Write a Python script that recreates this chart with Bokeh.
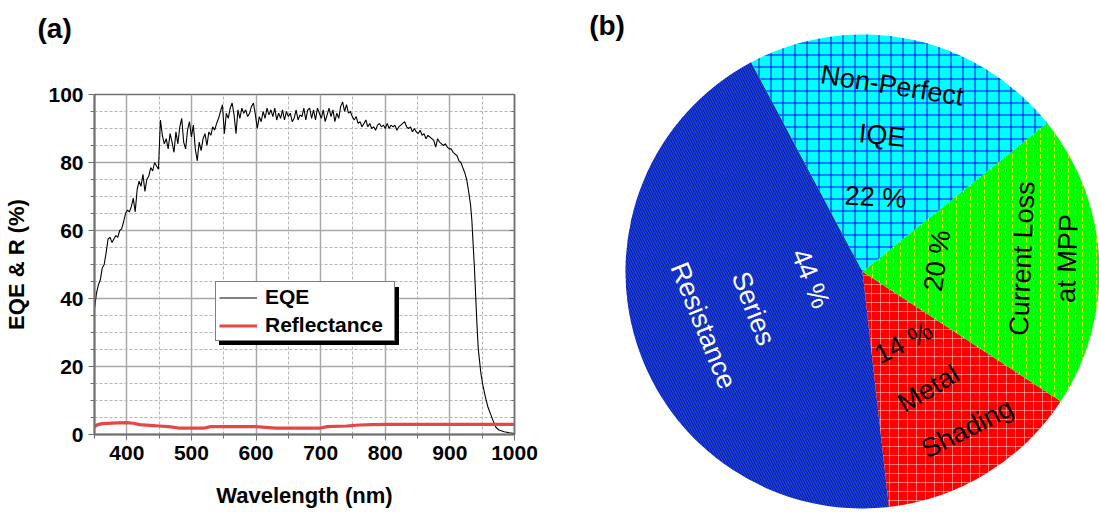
import math
from bokeh.plotting import figure
from bokeh.models import (Range1d, LinearAxis, SingleIntervalTicker, Legend,
                          LegendItem, Label, Title, CustomJSTickFormatter)
from bokeh.layouts import row
from bokeh.embed import file_html
from bokeh.resources import INLINE
from bokeh.core.properties import value

# ---------------- data: panel (a) ----------------
eqe_wl = [
    350, 353, 356, 359, 362, 365, 368, 371, 374, 377,
    380, 383, 386, 389, 392, 395, 398, 401, 404, 407,
    410, 413, 416, 419, 422, 425, 428, 431, 434, 437,
    440, 443, 446, 449, 452, 455, 458, 461, 464, 467,
    470, 473, 476, 479, 482, 485, 488, 491, 494, 497,
    500, 503, 506, 509, 512, 515, 518, 521, 524, 527,
    530, 533, 536, 539, 542, 545, 548, 551, 554, 557,
    560, 563, 566, 569, 572, 575, 578, 581, 584, 587,
    590, 593, 596, 599, 602, 605, 608, 611, 614, 617,
    620, 623, 626, 629, 632, 635, 638, 641, 644, 647,
    650, 653, 656, 659, 662, 665, 668, 671, 674, 677,
    680, 683, 686, 689, 692, 695, 698, 701, 704, 707,
    710, 713, 716, 719, 722, 725, 728, 731, 734, 737,
    740, 743, 746, 749, 752, 755, 758, 761, 764, 767,
    770, 773, 776, 779, 782, 785, 788, 791, 794, 797,
    800, 803, 806, 809, 812, 815, 818, 821, 824, 827,
    830, 833, 836, 839, 842, 845, 848, 851, 854, 857,
    860, 863, 866, 869, 872, 875, 878, 881, 884, 887,
    890, 893, 896, 899, 902, 905, 908, 911, 914, 917,
    920, 923, 926, 929, 932, 934, 936, 938, 940, 942,
    944, 946, 948, 951, 955, 959, 963, 967, 971, 976,
    984, 992, 1000,
]
eqe = [
    37.0, 41.5, 44.0, 45.5, 49.0, 50.0, 53.5, 57.5, 58.0, 56.5,
    57.5, 58.5, 58.0, 60.0, 60.5, 62.5, 65.0, 66.0, 65.5, 67.0,
    69.5, 65.5, 72.0, 74.5, 73.0, 76.5, 71.5, 75.0, 76.0, 78.5,
    77.5, 80.0, 79.0, 78.0, 92.5, 88.0, 85.5, 87.0, 84.0, 88.5,
    86.0, 83.0, 89.0, 85.5, 90.5, 93.0, 86.0, 84.0, 89.5, 92.0,
    87.5, 91.0, 84.0, 80.5, 86.0, 83.5, 87.0, 88.5, 85.0, 89.0,
    88.0, 90.5, 89.5, 91.5, 93.0, 95.0, 97.0, 88.5, 94.5, 93.0,
    96.0, 97.5, 94.0, 88.5, 95.5, 93.0, 96.0, 94.5, 95.5, 93.5,
    94.5, 96.5, 97.5, 94.0, 90.0, 93.5, 92.0, 95.0, 93.0, 96.0,
    94.0, 95.5, 93.5, 96.0, 92.5, 94.5, 93.0, 95.5, 92.5, 95.0,
    93.5, 94.5, 92.0, 93.0, 95.5, 92.5, 94.0, 93.5, 96.0, 92.5,
    95.5, 96.0, 93.0, 95.5, 92.5, 96.0, 94.5, 93.0, 95.5, 92.0,
    94.0, 96.0, 93.5, 95.5, 92.0, 94.5, 93.0, 96.5, 97.8, 95.0,
    97.0, 94.5, 95.0, 93.5, 92.5, 93.5, 91.5, 92.0, 90.5, 91.5,
    92.5, 90.5, 91.5, 90.0, 90.5, 89.5, 91.0, 91.5, 90.5, 91.0,
    90.0, 91.5, 90.0, 91.0, 90.5, 91.0, 89.5, 90.5, 91.0, 91.5,
    92.0, 90.5, 90.0, 90.5, 89.0, 90.0, 89.0, 88.5, 89.5, 88.0,
    88.5, 87.0, 88.0, 87.5, 87.0, 86.5, 84.5, 87.0, 86.0, 85.5,
    85.0, 85.5, 84.5, 84.0, 84.0, 83.0, 82.5, 82.0, 80.5, 80.0,
    78.5, 77.0, 75.0, 71.5, 67.5, 63.0, 56.0, 49.0, 40.5, 32.0,
    25.0, 21.5, 18.0, 14.5, 11.0, 8.0, 6.0, 4.0, 2.2, 1.3,
    0.8, 0.5, 0.3,
]
refl_wl = [350, 355, 362, 370, 385, 400, 410, 420, 435, 450, 465, 480, 500,
           520, 530, 560, 600, 630, 660, 700, 710, 740, 760, 780, 800, 850,
           900, 950, 1000]
refl = [2.3, 2.9, 3.2, 3.3, 3.4, 3.5, 3.3, 2.9, 2.7, 2.5, 2.3, 1.9, 1.9,
        1.9, 2.3, 2.3, 2.3, 1.9, 1.9, 1.9, 2.3, 2.5, 2.8, 2.9, 3.0, 3.0,
        3.0, 3.0, 3.0]
series_names = ["EQE", "Reflectance"]
x_title = "Wavelength (nm)"
y_title = "EQE & R (%)"

# ---------------- data: panel (b) ----------------
loss_names = ["Series Resistance", "Metal Shading", "Current Loss at MPP", "Non-Perfect IQE"]
loss_lines = [["Series", "Resistance"], ["Metal", "Shading"],
              ["Current Loss", "at MPP"], ["Non-Perfect", "IQE"]]
loss_pct = [44, 14, 20, 22]

FONT = "Liberation Sans"
AX = "#707070"

# ================= panel (a) =================
p = figure(width=560, height=512, x_range=Range1d(350, 1000), y_range=Range1d(0, 100),
           output_backend="svg", toolbar_location=None,
           min_border_left=94, min_border_right=46, min_border_top=94, min_border_bottom=78,
           x_axis_label=x_title, y_axis_label=y_title)
p.frame_align = False
p.outline_line_color = AX
p.outline_line_width = 1.5

p.title.text = "(a)"
p.title.text_font = FONT
p.title.text_font_size = "28px"
p.title.text_font_style = "bold"
p.title.text_color = "black"
p.title.align = "left"
p.title.vertical_align = "top"
p.title.offset = -57
p.title.standoff = 20
# empty spacer between the panel title and the frame
p.add_layout(Title(text=" ", text_font_size="2px", standoff=35), "above")

xt = SingleIntervalTicker(interval=100, num_minor_ticks=2)
yt = SingleIntervalTicker(interval=20, num_minor_ticks=4)
p.xaxis.ticker = xt
p.yaxis.ticker = yt
p.xgrid.ticker = xt
p.ygrid.ticker = yt

p.grid.grid_line_color = "#a8a8a8"
p.grid.grid_line_width = 1.5
p.grid.minor_grid_line_color = "#b4b4b4"
p.grid.minor_grid_line_dash = "3 2"
p.grid.minor_grid_line_width = 1

for ax in (p.xaxis[0], p.yaxis[0]):
    ax.axis_line_color = AX
    ax.axis_line_width = 2
    ax.major_tick_line_color = AX
    ax.minor_tick_line_color = AX
    ax.major_tick_out = 6
    ax.major_tick_in = 0
    ax.minor_tick_out = 4
    ax.minor_tick_in = 0
    ax.major_label_text_font = FONT
    ax.major_label_text_font_size = "21px"
    ax.major_label_text_font_style = "bold"
    ax.major_label_text_color = "black"
    ax.axis_label_text_font = FONT
    ax.axis_label_text_font_size = "22px"
    ax.axis_label_text_font_style = "bold"
    ax.axis_label_text_color = "black"
    ax.major_label_standoff = 5
p.xaxis.axis_label_standoff = 20
p.yaxis.axis_label_standoff = 16

right_ax = LinearAxis(ticker=yt, formatter=CustomJSTickFormatter(code="return ''"),
                      major_tick_in=5, major_tick_out=0, minor_tick_in=3, minor_tick_out=0,
                      axis_line_color=AX, axis_line_width=1.5,
                      major_tick_line_color=AX, minor_tick_line_color=AX)
p.add_layout(right_ax, "right")

r_eqe = p.line(eqe_wl, eqe, line_color="black", line_width=1.1)
r_ref = p.line(refl_wl, refl, line_color="#e64646", line_width=3.2)

leg_kw = dict(label_text_font=FONT, label_text_font_size="21px", label_text_font_style="bold",
              glyph_width=38, glyph_height=23, label_height=23, label_width=126,
              label_standoff=8, padding=3, spacing=4, margin=0, border_line_width=1.5)
shadow_items = [LegendItem(label=" ", renderers=[r_eqe]),
                LegendItem(label=" ", renderers=[r_ref])]
items = [LegendItem(label=series_names[0], renderers=[r_eqe]),
         LegendItem(label=series_names[1], renderers=[r_ref])]
shadow = Legend(items=shadow_items, location=(125, 89), background_fill_color="black",
                background_fill_alpha=1, border_line_color="black", **leg_kw)
legend = Legend(items=items, location=(121, 93), background_fill_color="white",
                background_fill_alpha=1, border_line_color="black",
                label_text_color="black", **leg_kw)
p.add_layout(shadow)
p.add_layout(legend)

# ================= panel (b) =================
R = 237.0
q = figure(width=539, height=512, x_range=Range1d(-302 / R, 237 / R),
           y_range=Range1d(-241 / R, 271 / R), x_axis_type=None, y_axis_type=None,
           output_backend="svg", toolbar_location=None, min_border=0,
           outline_line_color=None)
q.frame_align = False
q.grid.visible = False

fills = ["#0a10f2", "#ff0000", "#00ff00", "#00ffff"]
hatches = ["left_diagonal_line", "cross", "vertical_dash", "cross"]
hatch_colors = ["#2ea02e", "#ffffff", "#f0f000", "#0000ff"]
hatch_alphas = [0.85, 0.45, 1.0, 1.0]
hatch_scales = [5, 9, 7, 12]
hatch_weights = [0.7, 1, 1, 1.0]

start = math.radians(118)
total = float(sum(loss_pct))
for i, v in enumerate(loss_pct):
    end = start + v / total * 2 * math.pi
    q.wedge(x=0, y=0, radius=1, start_angle=start, end_angle=end,
            fill_color=fills[i], line_color=None,
            hatch_pattern=hatches[i], hatch_color=hatch_colors[i],
            hatch_alpha=hatch_alphas[i], hatch_scale=hatch_scales[i],
            hatch_weight=hatch_weights[i])
    start = end

# label layout (position in radius units, rotation in degrees): pct, line1, line2
label_layout = [
    [(-0.219, -0.030, -68), (-0.460, -0.156, -69), (-0.671, -0.228, -68)],
    [(0.173, -0.300, 27), (0.278, -0.494, 31), (0.442, -0.662, 27)],
    [(0.315, 0.046, 82), (0.674, 0.055, 87.5), (0.864, 0.055, 88)],
    [(0.055, 0.314, -3), (0.125, 0.785, -9), (0.083, 0.574, -6)],
]
label_colors = ["white", "black", "black", "black"]
for i, v in enumerate(loss_pct):
    texts = [f"{v} %"] + loss_lines[i]
    lay = label_layout[i]
    q.text(x=[l[0] for l in lay], y=[l[1] for l in lay], text=texts,
           angle=[l[2] for l in lay], angle_units="deg",
           text_font=value(FONT), text_font_size=value("27px"),
           text_color=label_colors[i], text_align="center", text_baseline="middle")

q.add_layout(Label(x=-1.078, y=1.038, text="(b)", text_color="black",
                   text_font=FONT, text_font_size="28px", text_font_style="bold",
                   text_align="center", text_baseline="middle"))

layout = row(p, q)
open("out.html", "w").write(file_html(layout, INLINE))
